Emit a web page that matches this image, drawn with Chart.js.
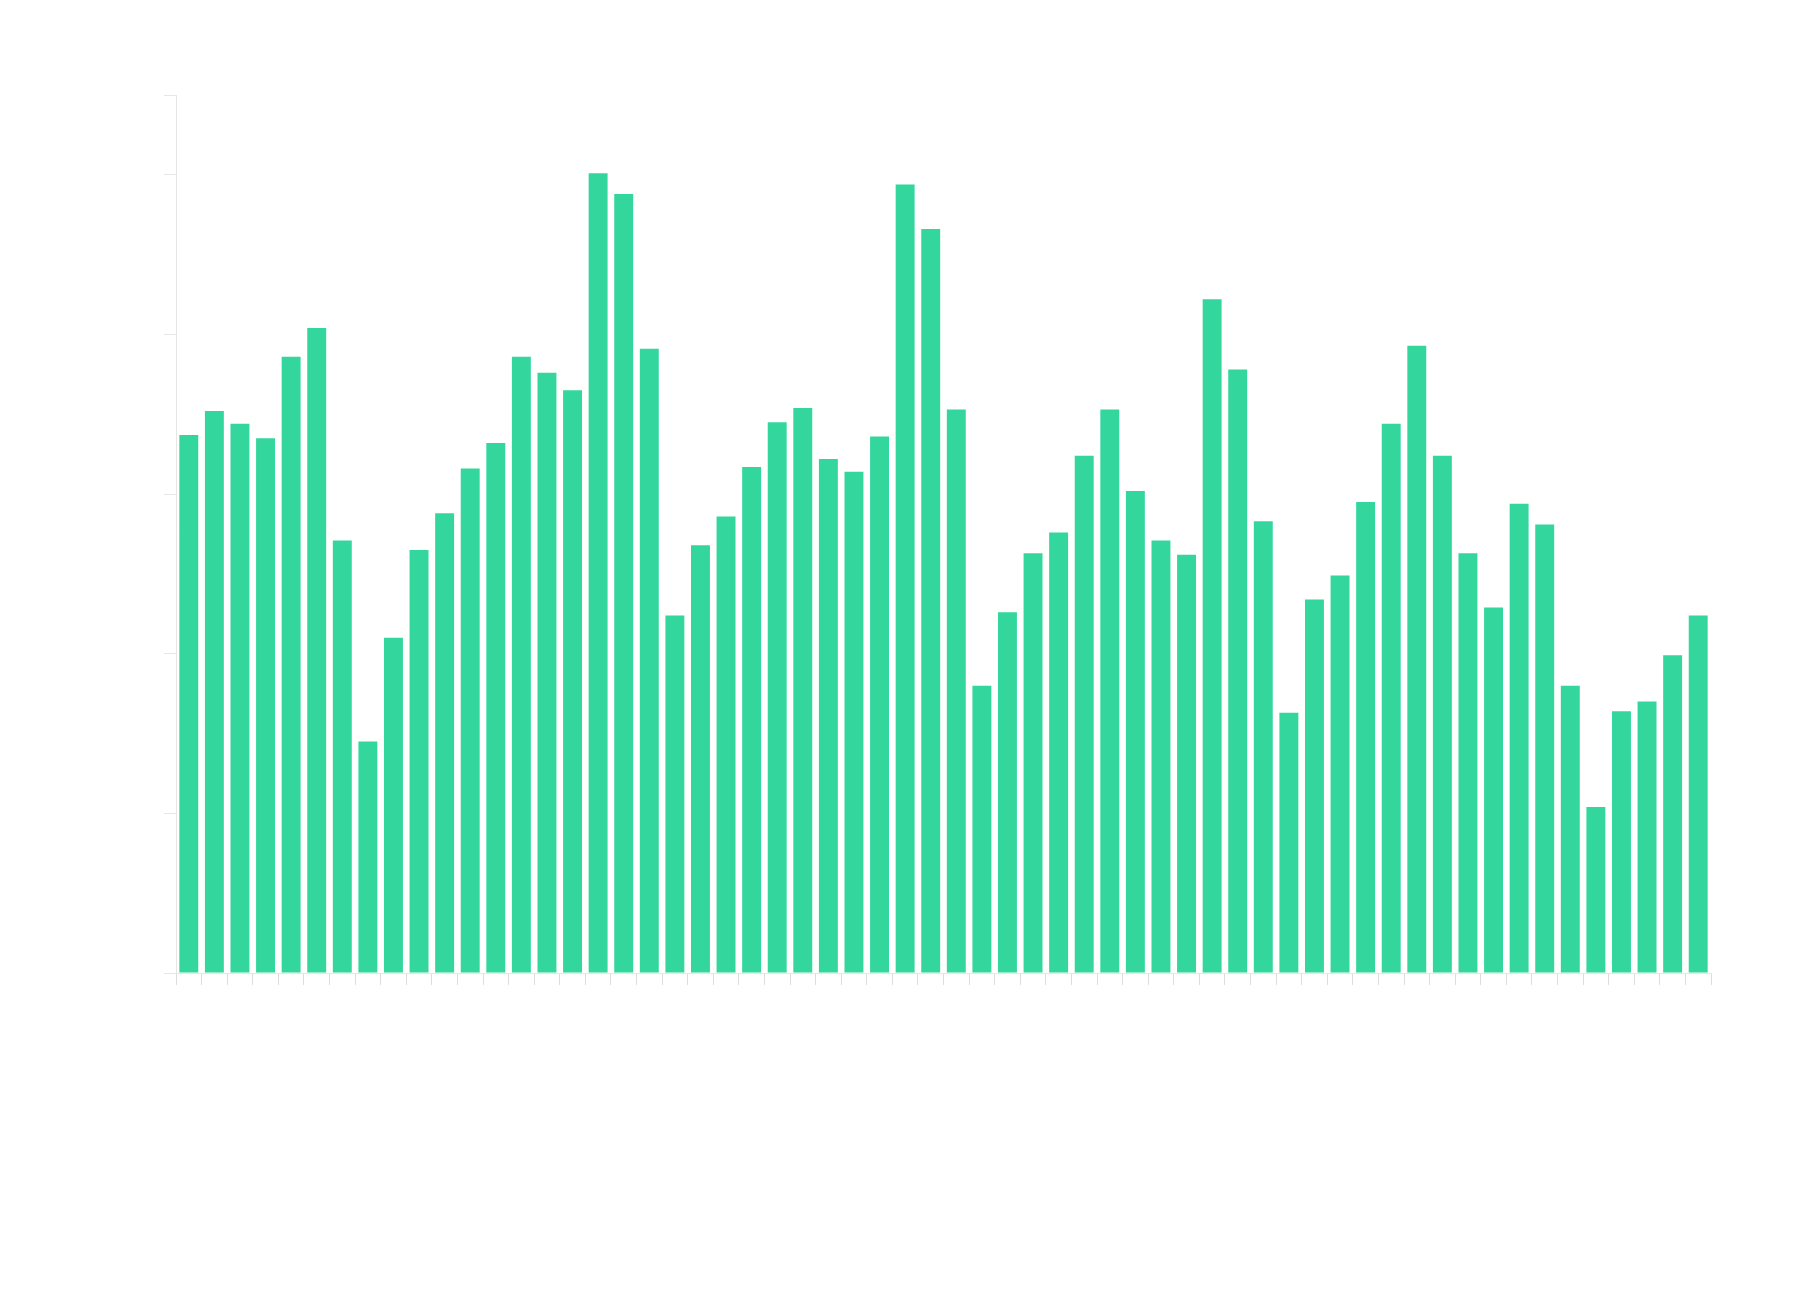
<!DOCTYPE html>
<html>
<head>
<meta charset="utf-8">
<script src="https://cdn.jsdelivr.net/npm/chart.js@4"></script>
<style>body{margin:0;background:#fff}</style>
</head>
<body>
<canvas id="c" width="1800" height="1300"></canvas>
<script>
const values = [3.37, 3.52, 3.44, 3.35, 3.86, 4.04, 2.71, 1.45, 2.10, 2.65,
    2.88, 3.16, 3.32, 3.86, 3.76, 3.65, 5.01, 4.88, 3.91, 2.24,
    2.68, 2.86, 3.17, 3.45, 3.54, 3.22, 3.14, 3.36, 4.94, 4.66,
    3.53, 1.80, 2.26, 2.63, 2.76, 3.24, 3.53, 3.02, 2.71, 2.62,
    4.22, 3.78, 2.83, 1.63, 2.34, 2.49, 2.95, 3.44, 3.93, 3.24,
    2.63, 2.29, 2.94, 2.81, 1.80, 1.04, 1.64, 1.70, 1.99, 2.24];
const labels = values.map((v, i) => String(i + 1));

const ctx = document.getElementById('c').getContext('2d');
new Chart(ctx, {
    type: 'bar',
    data: {
        labels: labels,
        datasets: [{
            data: values,
            backgroundColor: '#33d69c',
            barPercentage: 0.74,
            categoryPercentage: 1.0,
        }],
    },
    options: {
        responsive: false,
        animation: false,
        layout: {padding: {left: 164, top: 95, right: 89, bottom: 315}},
        plugins: {legend: {display: false}, tooltip: {enabled: false}},
        scales: {
            x: {
                grid: {drawOnChartArea: false, color: '#dddddd', tickLength: 12},
                border: {color: '#e6e6e6'},
                ticks: {display: false},
            },
            y: {
                min: 0,
                max: 5.5,
                grid: {drawOnChartArea: false, color: '#e6e6e6', tickLength: 12},
                border: {color: '#e6e6e6'},
                ticks: {display: false, stepSize: 1},
            },
        },
    },
});
</script>
</body>
</html>
